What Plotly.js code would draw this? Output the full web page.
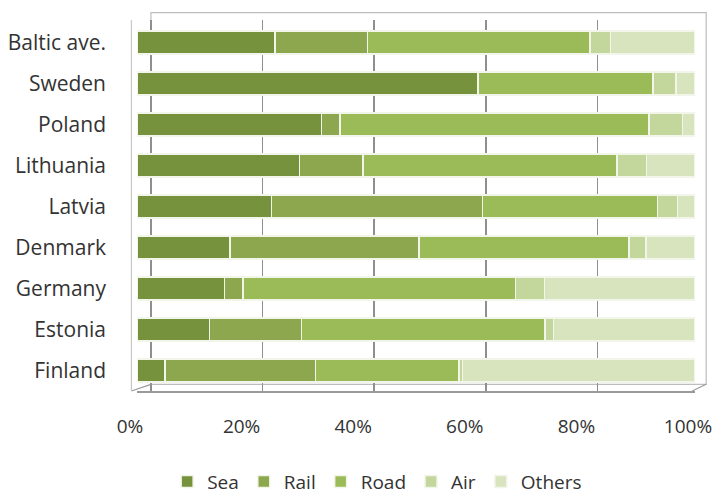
<!DOCTYPE html>
<html>
<head>
<meta charset="utf-8">
<script src="https://cdn.plot.ly/plotly-3.0.1.min.js"></script>
<style>html,body{margin:0;padding:0;background:#fff}#chart{width:717px;height:494px}</style>
</head>
<body>
<div id="chart"></div>
<script>
const countries = ["Baltic ave.", "Sweden", "Poland", "Lithuania", "Latvia", "Denmark", "Germany", "Estonia", "Finland"];
const sea    = [24.7, 61.1, 33.1, 29.1, 24.1, 16.7, 15.7, 13.0, 5.0];
const rail   = [16.6, 0.0, 3.3, 11.4, 37.8, 33.8, 3.3, 16.5, 27.0];
const road   = [39.9, 31.4, 55.4, 45.5, 31.4, 37.7, 48.8, 43.6, 25.7];
const air    = [3.7, 4.1, 6.0, 5.3, 3.6, 3.0, 5.2, 1.5, 0.6];
const others = [15.1, 3.4, 2.2, 8.7, 3.1, 8.8, 27.0, 25.4, 41.7];
const seriesNames = ["Sea", "Rail", "Road", "Air", "Others"];
const tickVals = [0, 20, 40, 60, 80, 100];
const tickText = ["0%", "20%", "40%", "60%", "80%", "100%"];

const colors = ["#76923C", "#8CA74E", "#9BBB59", "#C3D69B", "#D7E4BD"];
const seriesData = [sea, rail, road, air, others];

const traces = seriesData.map((vals, i) => ({
  type: "bar",
  orientation: "h",
  name: seriesNames[i],
  y: countries,
  x: vals,
  marker: {color: colors[i], line: {color: "#f2f6ea", width: 1.5}},
  hoverinfo: "x+y+name"
}));

// invisible helper trace: back-wall gridlines (x2)
traces.push({
  type: "scatter", mode: "markers", x: [0], y: [countries[0]],
  xaxis: "x2", yaxis: "y", marker: {opacity: 0}, showlegend: false, hoverinfo: "skip"
});

const layout = {
  width: 717, height: 494,
  margin: {l: 137, r: 22, t: 20, b: 103, autoexpand: false},
  paper_bgcolor: "#ffffff", plot_bgcolor: "rgba(0,0,0,0)",
  barmode: "stack",
  bargap: 0.44,
  font: {family: "'Open Sans', sans-serif", size: 20, color: "#333333"},
  xaxis: {
    range: [0, 100], tickvals: tickVals, ticktext: tickText,
    showgrid: false, zeroline: false, showline: true, linecolor: "#9a9a9a", linewidth: 1.5,
    ticks: "", fixedrange: true, automargin: false,
    ticklabelstandoff: 18, ticklabelshift: -7, ticklabeloverflow: "allow",
    tickfont: {size: 19, color: "#333333"}
  },
  xaxis2: {
    overlaying: "x", range: [-2.5, 97.5], tickvals: tickVals,
    showticklabels: false, showgrid: true, gridcolor: "#8f8f8f", gridwidth: 1.5,
    zeroline: false, side: "bottom", showline: false, automargin: false
  },
  yaxis: {
    autorange: "reversed", showgrid: false, zeroline: false, automargin: false,
    ticks: "", ticklabelstandoff: 30, showline: false,
    tickfont: {size: 21}
  },
  shapes: [
    {type: "rect", xref: "paper", yref: "paper", x0: 0.025, x1: 1.02, y0: 0.018, y1: 1.02,
     line: {color: "#bdbdbd", width: 1.2}, fillcolor: "rgba(0,0,0,0)", layer: "below"},
    {type: "line", xref: "paper", yref: "paper", x0: -0.01, x1: 0.025, y0: 0.0, y1: 0.018,
     line: {color: "#9a9a9a", width: 1.2}},
    {type: "line", xref: "paper", yref: "paper", x0: 0.995, x1: 1.02, y0: 0.0, y1: 0.018,
     line: {color: "#9a9a9a", width: 1.2}},
    {type: "line", xref: "paper", yref: "paper", x0: -0.01, x1: -0.01, y0: 0.0, y1: 1.0,
     line: {color: "#c8c8c8", width: 1.2}}
  ],
  legend: {
    orientation: "h", xref: "container", yref: "container",
    x: 0.526, xanchor: "center", y: 0.025, yanchor: "middle",
    font: {size: 19, color: "#333333"}, itemwidth: 30, traceorder: "normal"
  },
  showlegend: true
};

Plotly.newPlot("chart", traces, layout, {displayModeBar: false, staticPlot: true});
</script>
</body>
</html>
